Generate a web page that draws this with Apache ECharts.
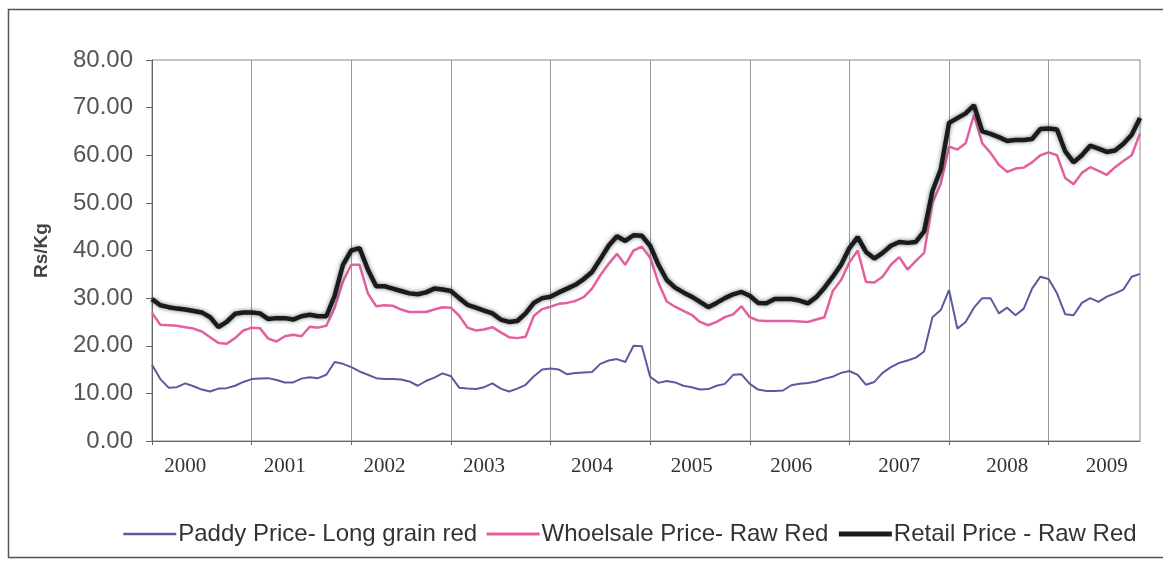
<!DOCTYPE html>
<html>
<head>
<meta charset="utf-8">
<script src="https://cdn.jsdelivr.net/npm/echarts@6/dist/echarts.min.js"></script>
<style>
  html, body { margin: 0; padding: 0; background: #fff; }
  #chart { width: 1163px; height: 562px; }
</style>
</head>
<body>
<div id="chart"></div>
<script>
// Monthly rice prices, Jan 2000 – Dec 2009 (Rs/Kg)
const years = ['2000','2001','2002','2003','2004','2005','2006','2007','2008','2009'];
const months = [];
years.forEach(y => { for (let m = 1; m <= 12; m++) months.push(y + '-' + String(m).padStart(2, '0')); });

// months on which each year label sits
const yearLabelMonths = [4, 16, 28, 40, 53, 65, 77, 90, 103, 115];

const paddy = [
  16.0, 13.0, 11.2, 11.3, 12.1, 11.5, 10.8, 10.4, 11.0, 11.1, 11.6, 12.4,
  13.0, 13.1, 13.2, 12.8, 12.3, 12.3, 13.1, 13.4, 13.2, 13.9, 16.6, 16.2,
  15.5, 14.6, 13.9, 13.2, 13.0, 13.0, 12.9, 12.5, 11.6, 12.6, 13.3, 14.2,
  13.6, 11.2, 11.0, 10.9, 11.3, 12.1, 11.0, 10.4, 11.0, 11.8, 13.6, 15.0,
  15.2, 15.0, 14.0, 14.3, 14.4, 14.5, 16.2, 16.9, 17.2, 16.6, 20.0, 19.9,
  13.5, 12.2, 12.6, 12.3, 11.6, 11.3, 10.8, 10.9, 11.6, 12.0, 13.9, 14.0,
  12.0, 10.8, 10.5, 10.5, 10.6, 11.7, 12.0, 12.2, 12.5, 13.1, 13.5, 14.3,
  14.7, 13.9, 11.8, 12.4, 14.3, 15.5, 16.4, 16.9, 17.5, 18.8, 26.0, 27.5,
  31.7, 23.6, 25.0, 28.0, 30.0, 30.0, 26.8, 28.0, 26.4, 27.8, 32.0, 34.5,
  34.0, 31.0, 26.6, 26.4, 29.0, 30.0, 29.2, 30.3, 31.0, 31.8, 34.5, 35.1
];

const wholesale = [
  26.9, 24.4, 24.3, 24.2, 23.9, 23.6, 23.0, 21.8, 20.6, 20.4, 21.6, 23.2,
  23.8, 23.7, 21.5, 20.9, 22.0, 22.3, 22.0, 24.0, 23.8, 24.2, 28.0, 33.5,
  37.0, 37.0, 31.0, 28.3, 28.5, 28.4, 27.6, 27.1, 27.1, 27.1, 27.6, 28.1,
  28.0, 26.3, 23.8, 23.2, 23.4, 23.9, 22.8, 21.8, 21.6, 21.9, 26.3, 27.7,
  28.2, 28.8, 29.0, 29.4, 30.2, 32.0, 34.8, 37.2, 39.3, 37.0, 40.0, 40.8,
  38.5, 33.2, 29.3, 28.2, 27.3, 26.5, 25.0, 24.3, 25.0, 26.0, 26.6, 28.3,
  26.0, 25.3, 25.2, 25.2, 25.2, 25.2, 25.1, 25.0, 25.5, 26.0, 31.5, 33.8,
  37.5, 40.0, 33.4, 33.3, 34.5, 37.0, 38.6, 36.0, 37.8, 39.5, 50.0, 54.0,
  61.8, 61.2, 62.5, 68.5, 62.5, 60.5, 58.0, 56.5, 57.2, 57.4, 58.5, 60.0,
  60.6, 60.0, 55.2, 53.9, 56.3, 57.5, 56.7, 55.9, 57.5, 58.8, 60.0, 64.6
];

const retail = [
  29.8, 28.5, 28.1, 27.8, 27.6, 27.3, 27.0, 26.0, 23.9, 25.0, 26.7, 27.0,
  27.0, 26.8, 25.6, 25.8, 25.8, 25.5, 26.2, 26.5, 26.2, 26.2, 30.5, 37.0,
  40.0, 40.5, 36.0, 32.5, 32.5, 32.0, 31.5, 31.0, 30.8, 31.2, 32.0, 31.8,
  31.5, 30.0, 28.6, 28.0, 27.4, 26.8, 25.5, 25.0, 25.2, 26.8, 29.0, 30.0,
  30.3, 31.2, 32.0, 32.8, 34.0, 35.5, 38.2, 41.0, 43.0, 42.0, 43.2, 43.1,
  41.0, 37.0, 33.8, 32.2, 31.2, 30.3, 29.2, 28.1, 29.0, 30.0, 30.8, 31.3,
  30.5, 29.0, 28.9, 29.8, 29.8, 29.8, 29.5, 28.9, 30.2, 32.2, 34.5, 37.0,
  40.5, 42.8, 39.7, 38.3, 39.5, 41.0, 41.8, 41.6, 41.8, 44.0, 52.5, 57.0,
  66.8, 67.8, 68.8, 70.5, 65.0, 64.5, 63.8, 63.0, 63.2, 63.2, 63.4, 65.5,
  65.6, 65.4, 60.8, 58.5, 60.0, 62.0, 61.4, 60.7, 61.0, 62.4, 64.3, 67.8
];

const seriesNames = ['Paddy Price- Long grain red', 'Whoelsale Price- Raw Red', 'Retail Price - Raw Red'];
const colors = ['#5a5a9e', '#e2609f', '#1c1a1a'];
const widths = [2, 2.5, 4.5];

const chart = echarts.init(document.getElementById('chart'), null, { renderer: 'canvas' });

chart.setOption({
  animation: false,
  backgroundColor: '#fff',
  textStyle: { fontFamily: 'Liberation Sans, Arial, sans-serif' },
  graphic: [{
    type: 'rect',
    shape: { x: 8.5, y: 9.5, width: 1170, height: 548 },
    style: { fill: 'none', stroke: '#555', lineWidth: 1.5 },
    silent: true, z: -1
  }],
  grid: {
    left: 152, right: 23, top: 60, bottom: 121,
    show: true, borderColor: '#888', borderWidth: 1, backgroundColor: 'transparent'
  },
  legend: {
    left: 117, top: 517,
    itemWidth: 53, itemHeight: 14, itemGap: 8,
    itemStyle: { opacity: 0 },
    textStyle: { fontSize: 24, color: '#333', fontFamily: 'Liberation Sans, Arial, sans-serif', padding: [0, 0, 0, -3] },
    data: seriesNames.map((n, i) => ({
      name: n,
      lineStyle: { color: colors[i], width: i === 2 ? 5 : widths[i] + 0.5, opacity: 1 }
    }))
  },
  xAxis: {
    type: 'category',
    data: months,
    boundaryGap: false,
    axisLine: { lineStyle: { color: '#666', width: 1 } },
    axisTick: { show: true, interval: 11, length: 4, lineStyle: { color: '#666' } },
    splitLine: { show: true, interval: 11, lineStyle: { color: '#999', width: 1 } },
    axisLabel: {
      interval: (index) => yearLabelMonths.includes(index),
      formatter: (v) => v.slice(0, 4),
      fontFamily: 'Liberation Serif, Times New Roman, serif',
      fontSize: 21, color: '#333', margin: 15
    }
  },
  yAxis: {
    type: 'value',
    min: 0, max: 80, interval: 10,
    name: 'Rs/Kg',
    nameLocation: 'middle',
    nameRotate: 90,
    nameGap: 101,
    nameTextStyle: { fontSize: 19, fontWeight: 'bold', color: '#444', fontFamily: 'Liberation Sans, Arial, sans-serif' },
    axisLine: { show: true, lineStyle: { color: '#666', width: 1 } },
    axisTick: { show: true, length: 6, lineStyle: { color: '#666' } },
    splitLine: { show: false },
    axisLabel: {
      formatter: (v) => v.toFixed(2),
      fontSize: 24, color: '#555', margin: 19,
      fontFamily: 'Liberation Sans, Arial, sans-serif'
    }
  },
  series: [
    {
      name: seriesNames[0], type: 'line', data: paddy, symbol: 'none', z: 2,
      lineStyle: { color: colors[0], width: widths[0] }, itemStyle: { color: colors[0] }
    },
    {
      name: seriesNames[1], type: 'line', data: wholesale, symbol: 'none', z: 3,
      lineStyle: { color: colors[1], width: widths[1] }, itemStyle: { color: colors[1] }
    },
    {
      name: seriesNames[2], type: 'line', data: retail, symbol: 'none', z: 4,
      lineStyle: { color: colors[2], width: widths[2], shadowColor: 'rgba(60,85,85,0.75)', shadowBlur: 4 },
      itemStyle: { color: colors[2] }
    }
  ]
});
</script>
</body>
</html>
